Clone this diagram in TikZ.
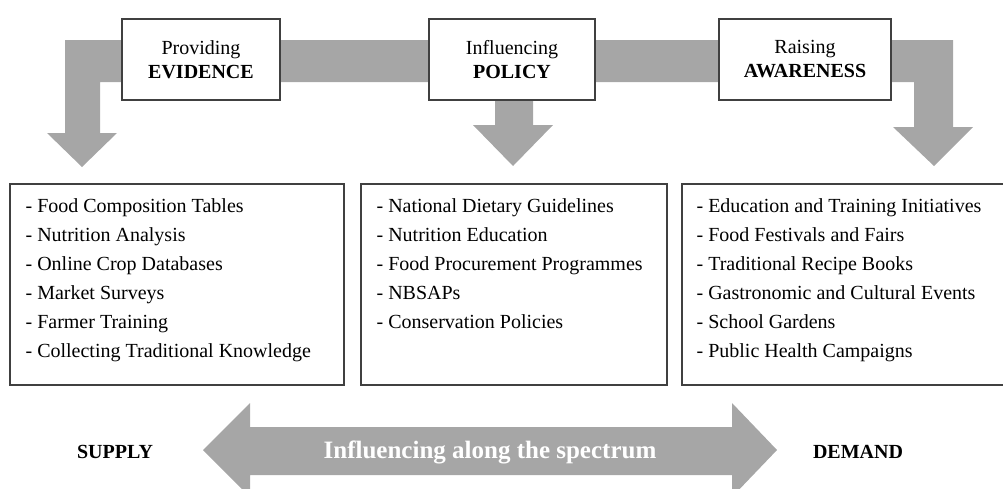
\documentclass[tikz,border=0pt]{standalone}
\usepackage{fontspec}
\setmainfont{Liberation Serif}
\usetikzlibrary{positioning}
\definecolor{bandgray}{HTML}{A6A6A6}
\tikzset{ band/.style={fill=bandgray}, boxline/.style={draw=black!75, line width=1.2pt, fill=white} }
\tikzset{ headbox/.style={boxline, minimum height=81pt, align=center, font=\fontsize{20}{24}\selectfont} }
\tikzset{ listbox/.style={boxline, minimum height=201pt}, listtext/.style={anchor=north west, inner sep=0pt, align=left, font=\fontsize{20}{29}\selectfont} }
\tikzset{ endlabel/.style={anchor=base, font=\fontsize{20}{24}\selectfont\bfseries} }

\begin{document}
\begin{tikzpicture}[x=1pt,y=-1pt]
  \useasboundingbox (0,0) rectangle (1003,488);
  % band with the two corner arrows
  \fill[band] (82,167) -- (117,133) -- (100,133) -- (100,82) -- (914,82) -- (914,127) -- (893,127)
    -- (934,166) -- (973,127) -- (953,127) -- (953,40) -- (65,40) -- (65,133) -- (47,133) -- cycle;
  % middle arrow
  \fill[band] (495,90) -- (533,90) -- (533,125) -- (553,125) -- (513,166) -- (473,125) -- (495,125) -- cycle;
  % headings
  \foreach \name/\cx/\w/\lineA/\lineB in {evhead/201/158/Providing/EVIDENCE, polhead/512/166/Influencing/POLICY, awhead/805/172/Raising/AWARENESS} {
    \node[headbox, minimum width=\w pt] (\name) at (\cx,59.5) {\lineA\\\textbf{\lineB}};
  };
  % lists
  \node[listbox, minimum width=334pt] (evbox) at (177,284.5) {};
  \node[listbox, minimum width=306pt] (polbox) at (514,284.5) {};
  \node[listbox, minimum width=326pt] (awbox) at (845,284.5) {};
  \node[listtext] (evlist) at ([xshift=16pt,yshift=-15.5pt]evbox.north west) {- Food Composition Tables\\- Nutrition Analysis\\- Online Crop Databases\\- Market Surveys\\- Farmer Training\\- Collecting Traditional Knowledge};
  \node[listtext] (pollist) at ([xshift=16pt,yshift=-15.5pt]polbox.north west) {- National Dietary Guidelines\\- Nutrition Education\\- Food Procurement Programmes\\- NBSAPs\\- Conservation Policies};
  \node[listtext] (awlist) at ([xshift=15pt,yshift=-15.5pt]awbox.north west) {- Education and Training Initiatives\\- Food Festivals and Fairs\\- Traditional Recipe Books\\- Gastronomic and Cultural Events\\- School Gardens\\- Public Health Campaigns};
  % spectrum
  \fill[band] (203,450) -- (250,403) -- (250,427) -- (732,427) -- (732,403) -- (777,450) -- (732,497)
    -- (732,475) -- (250,475) -- (250,497) -- cycle;
  \node[anchor=base, white, font=\fontsize{25}{30}\selectfont\bfseries] (spectrum) at (490,458) {Influencing along the spectrum};
  \node[endlabel] (supply) at (115,458) {SUPPLY};
  \node[endlabel] (demand) at (858,458) {DEMAND};
\end{tikzpicture}
\end{document}
